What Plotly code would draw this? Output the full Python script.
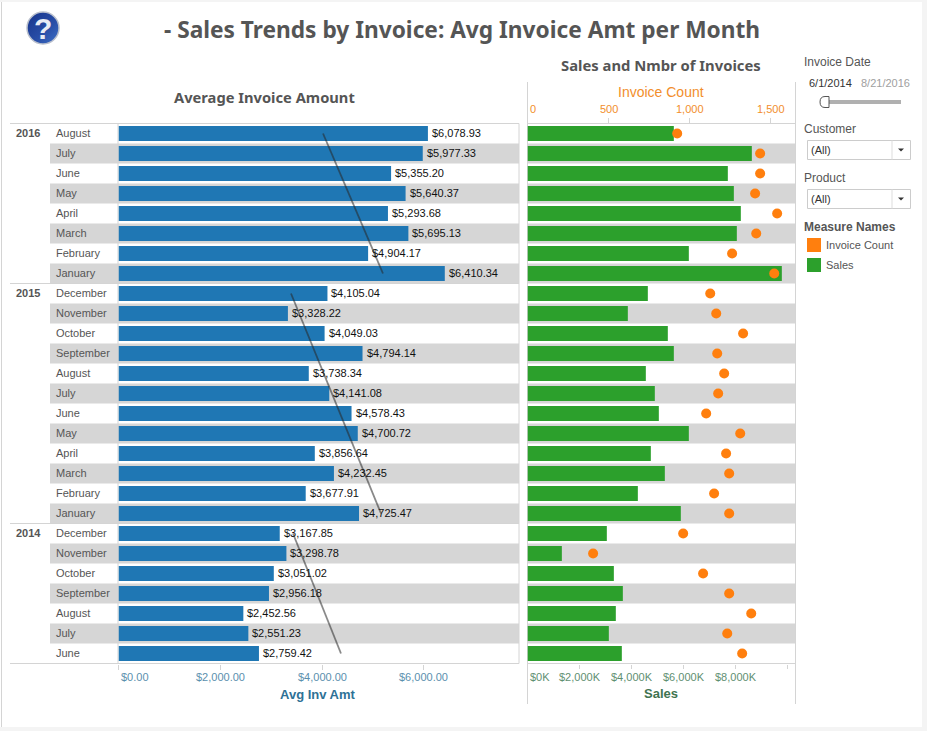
import base64
import plotly.graph_objects as go

W, H = 927, 731

years = [("2016", 0), ("2015", 8), ("2014", 20)]
months = ["August", "July", "June", "May", "April", "March", "February", "January",
          "December", "November", "October", "September", "August", "July", "June", "May",
          "April", "March", "February", "January",
          "December", "November", "October", "September", "August", "July", "June"]
avg_inv = [6078.93, 5977.33, 5355.20, 5640.37, 5293.68, 5695.13, 4904.17, 6410.34,
           4105.04, 3328.22, 4049.03, 4794.14, 3738.34, 4141.08, 4578.43, 4700.72,
           3856.64, 4232.45, 3677.91, 4725.47,
           3167.85, 3298.78, 3051.02, 2956.18, 2452.56, 2551.23, 2759.42]
sales_k = [5628, 8628, 7705, 7936, 8205, 8051, 6205, 9782,
           4628, 3859, 5397, 5628, 4551, 4897, 5051, 6205,
           4744, 5282, 4244, 5897,
           3051, 1321, 3321, 3667, 3397, 3128, 3628]
inv_count = [924, 1436, 1436, 1405, 1541, 1412, 1263, 1523,
             1128, 1165, 1331, 1171, 1214, 1177, 1103, 1313,
             1226, 1245, 1152, 1245,
             961, 405, 1084, 1245, 1381, 1233, 1325]
# trend line ends per year: first and last row, value at each
trend_rows = [[0, 7], [8, 19], [20, 26]]
trend_vals = [[4018, 5196], [3389, 5157], [3428, 4371]]

avg_ticks = [0, 2000, 4000, 6000]
avg_tick_text = ["$0.00", "$2,000.00", "$4,000.00", "$6,000.00"]
sales_ticks = [0, 2000, 4000, 6000, 8000, 10000]
sales_tick_text = ["$0K", "$2,000K", "$4,000K", "$6,000K", "$8,000K", ""]
count_ticks = [0, 500, 1000, 1500]
count_tick_text = ["0", "500", "1,000", "1,500"]

BLUE, GREEN, ORANGE = "#1f77b4", "#2ca02c", "#ff7f0e"
BAND, RULE = "#d6d6d6", "#d4d4d4"
TEXT = "#555555"
ARIAL = "Liberation Sans"
HEAD = "Noto Sans"
TOP, BOTTOM = 123.5, 663.5


def px(x):
    return x / W


def py(y):
    return 1 - y / H


rows = list(range(len(months)))
fig = go.Figure()

fig.add_trace(go.Bar(
    x=avg_inv, y=rows, orientation="h", xaxis="x", yaxis="y", width=0.75,
    marker=dict(color=BLUE, line_width=0), hoverinfo="skip", showlegend=False,
))
for r, v in zip(trend_rows, trend_vals):
    fig.add_trace(go.Scatter(
        x=v, y=r, mode="lines", xaxis="x", yaxis="y",
        line=dict(color="rgba(40,40,40,0.55)", width=1.8),
        hoverinfo="skip", showlegend=False,
    ))
fig.add_trace(go.Bar(
    x=sales_k, y=rows, orientation="h", xaxis="x2", yaxis="y", width=0.75,
    marker=dict(color=GREEN, line_width=0), hoverinfo="skip", showlegend=False,
))
fig.add_trace(go.Scatter(
    x=inv_count, y=rows, mode="markers", xaxis="x3", yaxis="y",
    marker=dict(color=ORANGE, size=10), hoverinfo="skip", showlegend=False,
))

shapes = []


def rect(x0, y0, x1, y1, fill, line=None, layer="below"):
    shapes.append(dict(type="rect", xref="paper", yref="paper", layer=layer,
                       x0=px(x0), x1=px(x1), y0=py(y0), y1=py(y1), fillcolor=fill,
                       line=dict(color=line or fill, width=1 if line else 0)))


def rule(x0, y0, x1, y1, color=RULE, width=1, layer="below"):
    shapes.append(dict(type="line", xref="paper", yref="paper", layer=layer,
                       x0=px(x0), x1=px(x1), y0=py(y0), y1=py(y1),
                       line=dict(color=color, width=width)))


# page edges
rect(0, 0, W, 2, "#f4f4f4")
rect(922, 0, W, H, "#f4f4f4")
rect(0, 727, W, H, "#f4f4f4")
rule(1.5, 2, 1.5, 727)

# alternating row bands
for i in rows:
    if i % 2 == 1:
        for a, b in [(50, 519), (527.5, 795)]:
            shapes.append(dict(type="rect", xref="paper", yref="y", layer="below",
                               x0=px(a), x1=px(b), y0=i - 0.5, y1=i + 0.5,
                               fillcolor=BAND, line_width=0))

# frame rules
rule(10, TOP, 519, TOP)
rule(10, BOTTOM, 519, BOTTOM)
rule(527.5, TOP, 795.5, TOP)
rule(527.5, BOTTOM, 795.5, BOTTOM)
rule(118, TOP, 118, BOTTOM)
rule(519, TOP, 519, BOTTOM)
rule(527.5, 82, 527.5, 704)
rule(795.5, 82, 795.5, 704)
for _, r in years[1:]:
    shapes.append(dict(type="line", xref="paper", yref="y", layer="below",
                       x0=px(10), x1=px(519), y0=r - 0.5, y1=r - 0.5,
                       line=dict(color=RULE, width=1)))

ann = []


def label(x, y, s, size=11, color=TEXT, anchor="left", family=ARIAL, bold=False):
    # annotation boxes pad their text by about 2px
    ann.append(dict(xref="paper", yref="paper", x=px(x), y=py(y), text=f"<b>{s}</b>" if bold else s,
                    showarrow=False, xanchor=anchor, yanchor="middle",
                    xshift=-2 if anchor == "left" else 0,
                    font=dict(family=family, size=size, color=color)))


# year and month row headers
for y_name, r in years:
    ann.append(dict(xref="paper", yref="y", x=px(16), y=r, text=f"<b>{y_name}</b>", showarrow=False,
                    xanchor="left", xshift=-2, yshift=1, yanchor="middle",
                    font=dict(family=ARIAL, size=11, color=TEXT)))
for i, m in zip(rows, months):
    ann.append(dict(xref="paper", yref="y", x=px(56), y=i, text=m, showarrow=False,
                    xanchor="left", xshift=-2, yshift=1, yanchor="middle",
                    font=dict(family=ARIAL, size=11, color=TEXT)))

# value labels at the bar ends
for i, v in zip(rows, avg_inv):
    ann.append(dict(xref="x", yref="y", x=v, y=i, text=f"${v:,.2f}", showarrow=False,
                    xanchor="left", xshift=2, yshift=1, yanchor="middle",
                    font=dict(family=ARIAL, size=11, color="#111111")))

# tick labels
for v, s in zip(avg_ticks, avg_tick_text):
    ann.append(dict(xref="x", yref="paper", x=v, y=py(676.5), text=s, showarrow=False,
                    xanchor="left" if v == 0 else "center", yanchor="middle",
                    font=dict(family=ARIAL, size=11, color="#5b8fae")))
for v, s in zip(sales_ticks, sales_tick_text):
    if s:
        ann.append(dict(xref="x2", yref="paper", x=v, y=py(676.5), text=s, showarrow=False,
                        xanchor="left" if v == 0 else "center", yanchor="middle",
                        font=dict(family=ARIAL, size=11, color="#5f8f72")))
for v, s in zip(count_ticks, count_tick_text):
    ann.append(dict(xref="x3", yref="paper", x=v, y=py(109), text=s, showarrow=False,
                    xanchor="left" if v == 0 else "center", yanchor="middle",
                    font=dict(family=ARIAL, size=11, color="#f28e2b")))

# titles
label(462, 29.5, "- Sales Trends by Invoice: Avg Invoice Amt per Month", 22.7, "#555555", "center", HEAD, True)
label(264, 97, "Average Invoice Amount", 14.7, "#555555", "center", HEAD, True)
label(661, 65, "Sales and Nmbr of Invoices", 14.8, "#555555", "center", HEAD, True)
label(661, 92, "Invoice Count", 14, "#f28e2b", "center")
label(318, 694, "Avg Inv Amt", 13, "#2e7196", "center", ARIAL, True)
label(661, 693, "Sales", 13, "#3f7350", "center", ARIAL, True)

# filter panel
label(804, 62, "Invoice Date", 12)
label(809, 83, "6/1/2014", 11, "#333333")
label(861, 83, "8/21/2016", 11, "#a0a0a0")
rect(820, 100, 901, 104, "#b0b0b0")
shapes.append(dict(type="path", xref="paper", yref="paper", layer="above",
                   path=f"M {px(829)} {py(96.5)} L {px(825)} {py(96.5)} Q {px(820)} {py(96.5)} {px(820)} {py(102)} "
                        f"Q {px(820)} {py(107.5)} {px(825)} {py(107.5)} L {px(829)} {py(107.5)} Z",
                   fillcolor="white", line=dict(color="#555555", width=1)))
for name, y_lab, y0, y1 in [("Customer", 129, 140.5, 159.5), ("Product", 178, 189.5, 208.5)]:
    label(804, y_lab, name, 12)
    rect(807.5, y0, 910.5, y1, "white", "#cccccc")
    rule(892, y0, 892, y1, "#dddddd")
    label(811, (y0 + y1) / 2, "(All)", 11, "#333333")
    ym = (y0 + y1) / 2
    shapes.append(dict(type="path", xref="paper", yref="paper", layer="above",
                       path=f"M {px(898)} {py(ym - 1.5)} L {px(904)} {py(ym - 1.5)} L {px(901)} {py(ym + 1.5)} Z",
                       fillcolor="#333333", line_width=0))
label(804, 227, "Measure Names", 12, TEXT, bold=True)
rect(807, 238, 821, 252, ORANGE)
rect(807, 258, 821, 272, GREEN)
label(826, 245, "Invoice Count", 11)
label(826, 265, "Sales", 11)

# help icon
icon = ('<svg xmlns="http://www.w3.org/2000/svg" width="36" height="36">'
        '<defs><linearGradient id="g" x1="0" y1="0" x2="1" y2="1">'
        '<stop offset="0" stop-color="#16338a"/><stop offset="0.6" stop-color="#2a4fa8"/>'
        '<stop offset="1" stop-color="#3f72c8"/></linearGradient></defs>'
        '<circle cx="18" cy="18" r="16" fill="url(#g)" stroke="#b9bfcc" stroke-width="1.5"/></svg>')
icon_src = "data:image/svg+xml;base64," + base64.b64encode(icon.encode()).decode()
label(43, 28, "?", 30, "#e8ecf4", "center", ARIAL, True)

fig.update_layout(
    width=W, height=H, margin=dict(l=0, r=0, t=0, b=0),
    paper_bgcolor="white", plot_bgcolor="rgba(0,0,0,0)",
    font=dict(family=ARIAL, size=11, color=TEXT),
    shapes=shapes, annotations=ann, bargap=0.25,
    images=[dict(source=icon_src, xref="paper", yref="paper", x=px(25), y=py(10),
                 sizex=px(36), sizey=36 / H, xanchor="left", yanchor="top", layer="below")],
    yaxis=dict(domain=[py(BOTTOM), py(TOP)], range=[26.5, -0.5], autorange=False,
               showgrid=False, zeroline=False, showticklabels=False, ticks="", showline=False,
               fixedrange=True),
    xaxis=dict(domain=[px(118.5), px(519)], range=[0, (519 - 118.5) / 0.0509], anchor="y",
               tickvals=avg_ticks, ticks="outside", ticklen=5, tickcolor=RULE, showticklabels=False,
               showgrid=False, zeroline=False, showline=False),
    xaxis2=dict(domain=[px(527.5), px(795.5)], range=[0, 268 / 0.026], anchor="y",
                tickvals=sales_ticks, ticks="outside", ticklen=4, tickcolor=RULE, showticklabels=False,
                showgrid=False, zeroline=False, showline=False),
    xaxis3=dict(domain=[px(527.5), px(795.5)], range=[0, 268 / 0.162], anchor="y", overlaying="x2", side="top",
                tickvals=count_ticks, ticks="outside", ticklen=5, tickcolor=RULE, showticklabels=False,
                showgrid=False, zeroline=False, showline=False),
)

fig.write_html("out.html", config={"displayModeBar": False}, post_script="document.body.style.margin='0';")
